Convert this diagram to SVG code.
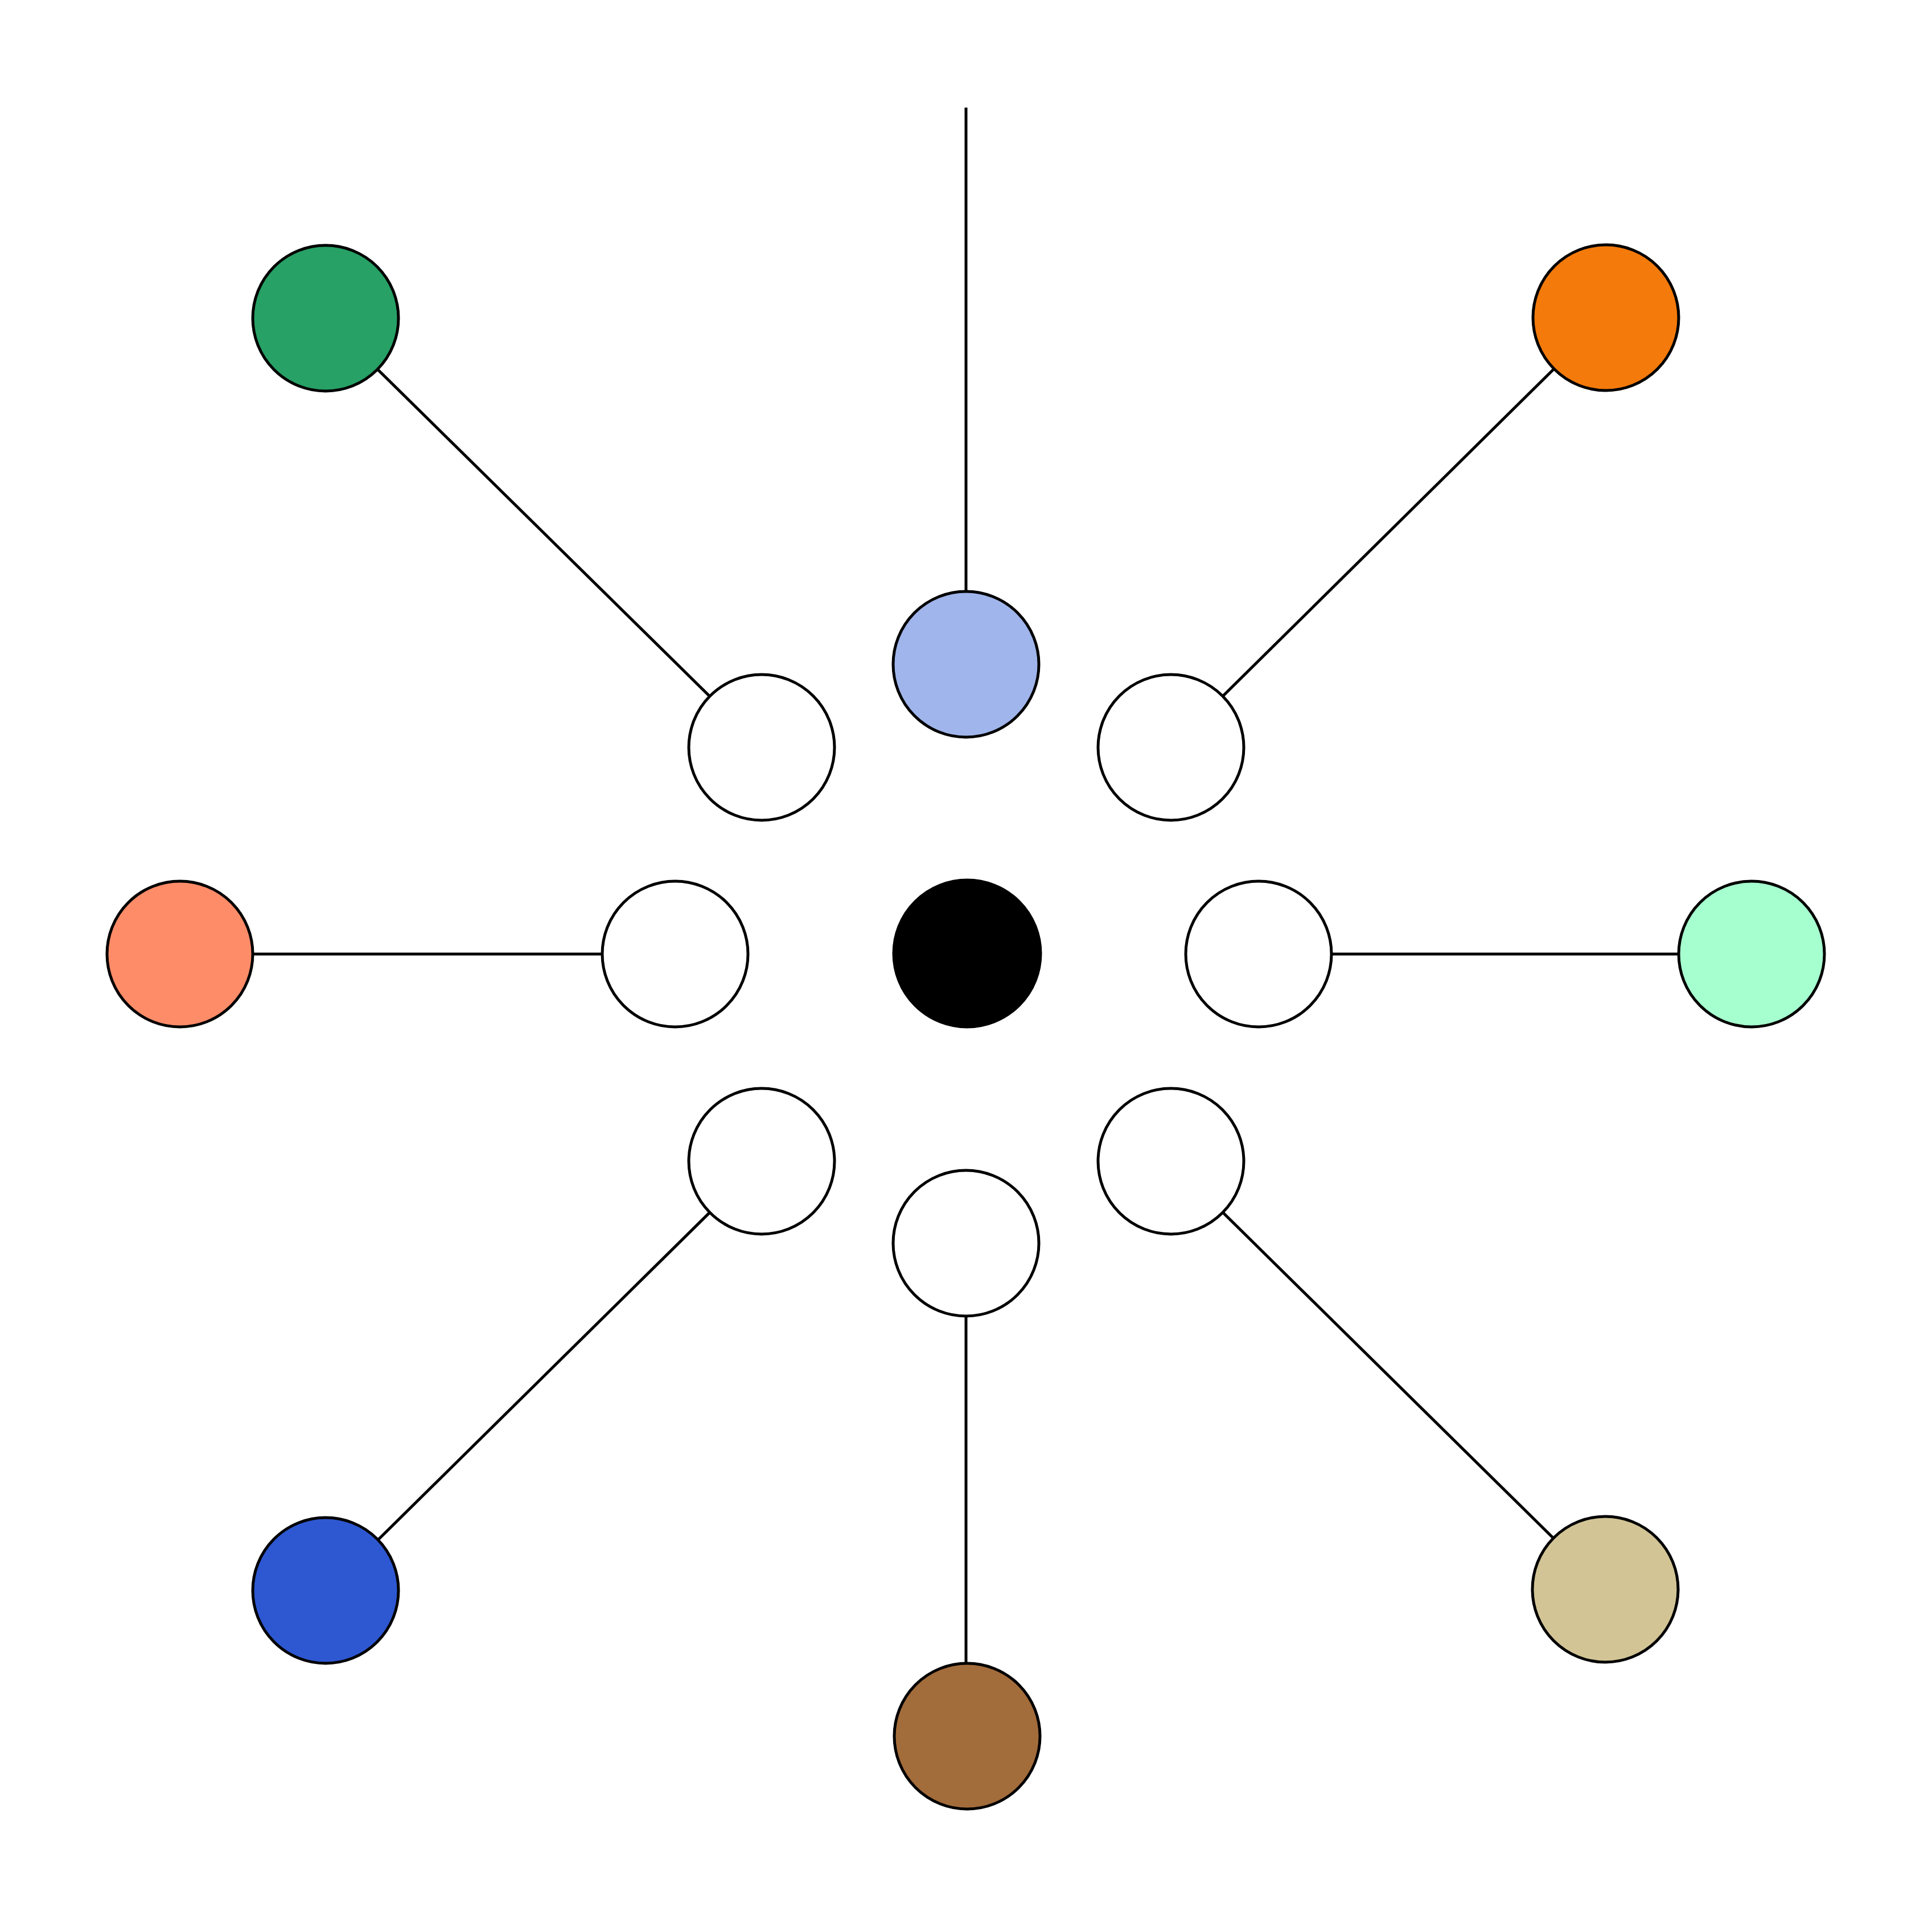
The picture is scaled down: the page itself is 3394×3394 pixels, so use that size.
<svg xmlns="http://www.w3.org/2000/svg" width="3394" height="3394" viewBox="0 0 3394 3394">
<style>
.edge{stroke:#000;stroke-width:5;fill:none}
.node{stroke:#000;stroke-width:5}
</style>
<rect width="3394" height="3394" fill="#fff"/>
<g id="connectors">
<line class="edge" x1="1697" y1="1167" x2="1697" y2="189"/>
<line class="edge" x1="1338" y1="1313" x2="572" y2="559"/>
<line class="edge" x1="2057" y1="1313" x2="2821" y2="558"/>
<line class="edge" x1="1186" y1="1676" x2="316" y2="1676"/>
<line class="edge" x1="2211" y1="1676" x2="3077" y2="1676"/>
<line class="edge" x1="1338" y1="2040" x2="574" y2="2794"/>
<line class="edge" x1="2057" y1="2040" x2="2820" y2="2792"/>
<line class="edge" x1="1697" y1="2184" x2="1697" y2="3050"/>
</g>
<g id="n-center"><circle class="node" cx="1699" cy="1675" r="129" fill="#000"/></g>
<g id="n-top"><circle class="node" cx="1697" cy="1167" r="128" fill="#A0B5EB"/></g>
<g id="n-ul"><circle class="node" cx="1338" cy="1313" r="128" fill="#fff"/></g>
<g id="n-ur"><circle class="node" cx="2057" cy="1313" r="128" fill="#fff"/></g>
<g id="n-l"><circle class="node" cx="1186" cy="1676" r="128" fill="#fff"/></g>
<g id="n-r"><circle class="node" cx="2211" cy="1676" r="128" fill="#fff"/></g>
<g id="n-ll"><circle class="node" cx="1338" cy="2040" r="128" fill="#fff"/></g>
<g id="n-lr"><circle class="node" cx="2057" cy="2040" r="128" fill="#fff"/></g>
<g id="n-bottom"><circle class="node" cx="1697" cy="2184" r="128" fill="#fff"/></g>
<g id="n-green"><circle class="node" cx="572" cy="559" r="128" fill="#27A166"/></g>
<g id="n-orange"><circle class="node" cx="2821" cy="558" r="128" fill="#F37A0B"/></g>
<g id="n-salmon"><circle class="node" cx="316" cy="1676" r="128" fill="#FF8C69"/></g>
<g id="n-mint"><circle class="node" cx="3077" cy="1676" r="128" fill="#A6FFCF"/></g>
<g id="n-blue"><circle class="node" cx="572" cy="2794" r="128" fill="#2E58D1"/></g>
<g id="n-tan"><circle class="node" cx="2820" cy="2792" r="128" fill="#D2C495"/></g>
<g id="n-brown"><circle class="node" cx="1699" cy="3050" r="128" fill="#A36C3B"/></g>
</svg>
